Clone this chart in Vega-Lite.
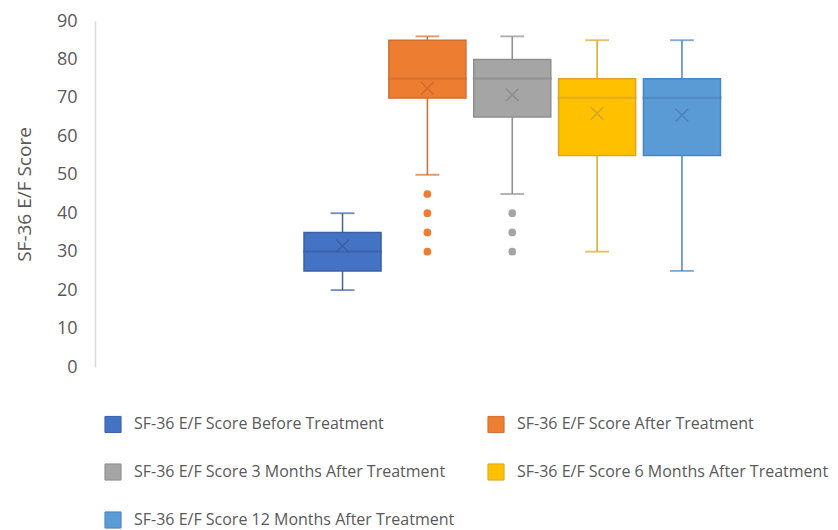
{
  "$schema": "https://vega.github.io/schema/vega-lite/v6.json",
  "width": 743,
  "height": 346,
  "autosize": {"type": "none"},
  "padding": {"left": 95, "top": 21, "right": 0, "bottom": 163},
  "background": "white",
  "config": {
    "view": {"stroke": null},
    "font": "Open Sans",
    "axisY": {
      "labelOverlap": false,
      "tickCount": 10,
      "titleFontSize": 19,
      "titleFontWeight": "normal",
      "titleColor": "#595959",
      "titlePadding": 22,
      "labelFontSize": 18,
      "labelLineHeight": 12,
      "labelColor": "#595959",
      "labelPadding": 18,
      "ticks": false,
      "grid": false,
      "domainColor": "#d9d9d9",
      "domainWidth": 1.5
    },
    "legend": {
      "orient": "none",
      "legendX": 9,
      "legendY": 394,
      "direction": "horizontal",
      "columns": 2,
      "title": null,
      "symbolType": "square",
      "symbolSize": 260,
      "symbolStrokeWidth": 1,
      "symbolOpacity": 1,
      "labelFontSize": 16,
      "labelColor": "#595959",
      "labelOffset": 12,
      "rowPadding": 26,
      "columnPadding": 30,
      "labelLimit": 400
    }
  },
  "datasets": {
    "boxes": [
      {"series": "SF-36 E/F Score Before Treatment", "min": 20, "q1": 25, "median": 30, "q3": 35, "max": 40, "mean": 31.5},
      {"series": "SF-36 E/F Score After Treatment", "min": 50, "q1": 70, "median": 75, "q3": 85, "max": 86, "mean": 72.5},
      {"series": "SF-36 E/F Score 3 Months After Treatment", "min": 45, "q1": 65, "median": 75, "q3": 80, "max": 86, "mean": 70.8},
      {"series": "SF-36 E/F Score 6 Months After Treatment", "min": 30, "q1": 55, "median": 70, "q3": 75, "max": 85, "mean": 66},
      {"series": "SF-36 E/F Score 12 Months After Treatment", "min": 25, "q1": 55, "median": 70, "q3": 75, "max": 85, "mean": 65.5}
    ],
    "outliers": [
      {"series": "SF-36 E/F Score After Treatment", "value": 45},
      {"series": "SF-36 E/F Score After Treatment", "value": 40},
      {"series": "SF-36 E/F Score After Treatment", "value": 35},
      {"series": "SF-36 E/F Score After Treatment", "value": 30},
      {"series": "SF-36 E/F Score 3 Months After Treatment", "value": 40},
      {"series": "SF-36 E/F Score 3 Months After Treatment", "value": 35},
      {"series": "SF-36 E/F Score 3 Months After Treatment", "value": 30}
    ]
  },
  "encoding": {
    "x": {
      "field": "series",
      "type": "nominal",
      "sort": null,
      "scale": {
        "domain": [
          "SF-36 E/F Score Before Treatment",
          "SF-36 E/F Score After Treatment",
          "SF-36 E/F Score 3 Months After Treatment",
          "SF-36 E/F Score 6 Months After Treatment",
          "SF-36 E/F Score 12 Months After Treatment"
        ],
        "range": [209, 625.5],
        "paddingInner": 0.092,
        "paddingOuter": 0
      },
      "axis": null
    }
  },
  "layer": [
    {
      "data": {"name": "boxes"},
      "mark": {"type": "rule", "strokeWidth": 1.5},
      "encoding": {
        "y": {
          "field": "min",
          "type": "quantitative",
          "scale": {"domain": [0, 90], "nice": false},
          "axis": {"title": "SF-36 E/F Score", "values": [0, 10, 20, 30, 40, 50, 60, 70, 80, 90], "labelOverlap": false}
        },
        "y2": {"field": "max"},
        "stroke": {
          "field": "series",
          "type": "nominal",
          "scale": {
            "domain": [
              "SF-36 E/F Score Before Treatment",
              "SF-36 E/F Score After Treatment",
              "SF-36 E/F Score 3 Months After Treatment",
              "SF-36 E/F Score 6 Months After Treatment",
              "SF-36 E/F Score 12 Months After Treatment"
            ],
            "range": ["#3B60A6", "#D16E30", "#8E8E8E", "#D9A628", "#4C84BE"]
          }
        }
      }
    },
    {
      "data": {"name": "boxes"},
      "mark": {"type": "tick", "size": 22, "thickness": 0.1, "filled": false, "strokeWidth": 1.8},
      "encoding": {
        "y": {"field": "min", "type": "quantitative"},
        "stroke": {"field": "series", "type": "nominal"}
      }
    },
    {
      "data": {"name": "boxes"},
      "mark": {"type": "tick", "size": 22, "thickness": 0.1, "filled": false, "strokeWidth": 1.8},
      "encoding": {
        "y": {"field": "max", "type": "quantitative"},
        "stroke": {"field": "series", "type": "nominal"}
      }
    },
    {
      "data": {"name": "boxes"},
      "mark": {"type": "bar", "strokeWidth": 1.5},
      "encoding": {
        "y": {"field": "q1", "type": "quantitative"},
        "y2": {"field": "q3"},
        "fill": {
          "field": "series",
          "type": "nominal",
          "scale": {
            "domain": [
              "SF-36 E/F Score Before Treatment",
              "SF-36 E/F Score After Treatment",
              "SF-36 E/F Score 3 Months After Treatment",
              "SF-36 E/F Score 6 Months After Treatment",
              "SF-36 E/F Score 12 Months After Treatment"
            ],
            "range": ["#4472C4", "#ED7D31", "#A5A5A5", "#FFC000", "#5B9BD5"]
          }
        },
        "stroke": {"field": "series", "type": "nominal"}
      }
    },
    {
      "data": {"name": "boxes"},
      "mark": {"type": "tick", "size": 77, "thickness": 0.1, "filled": false, "strokeWidth": 2},
      "encoding": {
        "y": {"field": "median", "type": "quantitative"},
        "stroke": {"field": "series", "type": "nominal"}
      }
    },
    {
      "data": {"name": "boxes"},
      "mark": {"type": "point", "shape": "M -1 -1 L 1 1 M -1 1 L 1 -1", "filled": false, "size": 160, "strokeWidth": 1.6, "opacity": 1},
      "encoding": {
        "y": {"field": "mean", "type": "quantitative"},
        "stroke": {"field": "series", "type": "nominal"}
      }
    },
    {
      "data": {"name": "outliers"},
      "mark": {"type": "circle", "size": 60, "opacity": 1},
      "encoding": {
        "y": {"field": "value", "type": "quantitative"},
        "fill": {"field": "series", "type": "nominal"}
      }
    }
  ]
}
